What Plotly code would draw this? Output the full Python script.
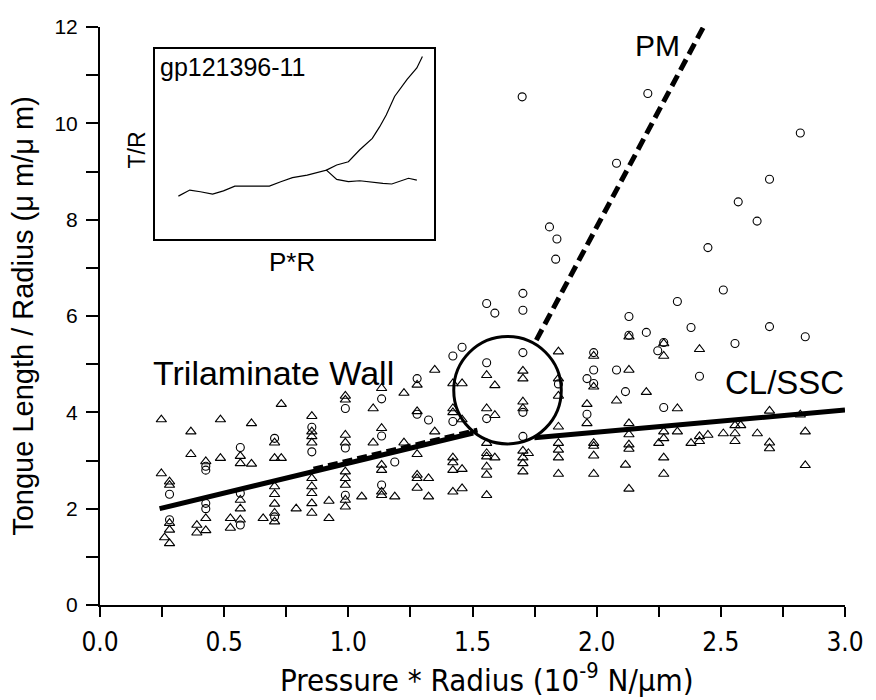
import plotly.graph_objects as go

# open circles (PM data)
circ_x = [0.28, 0.28, 0.426, 0.426, 0.426, 0.426, 0.565, 0.565, 0.565, 0.703, 0.703,
          0.853, 0.853, 0.988, 0.988, 0.988, 1.134, 1.134, 1.134, 1.187, 1.277, 1.277,
          1.323, 1.421, 1.421, 1.458, 1.557, 1.557, 1.557, 1.59, 1.703, 1.703, 1.703, 1.703, 1.703,
          1.846, 1.961, 1.961, 1.988, 1.988, 1.988, 2.08, 2.116, 2.13, 2.13, 2.2, 2.246, 2.27, 2.27, 2.325,
          2.38, 2.414, 2.51, 2.557, 2.696, 2.84,
          1.70, 2.206, 2.08, 2.82, 2.696, 2.57, 2.646, 2.448, 1.835, 1.84, 1.81]
circ_y = [2.3, 1.77, 2.88, 2.8, 2.11, 2.0, 3.27, 2.32, 1.66, 3.46, 1.83,
          3.69, 3.18, 4.08, 3.26, 2.28, 4.28, 3.51, 2.49, 2.97, 4.7, 3.96,
          3.84, 5.17, 3.81, 5.35, 6.26, 5.03, 3.87, 6.06, 6.47, 6.12, 5.24, 4.0, 3.5,
          4.59, 4.7, 3.96, 5.24, 4.88, 4.6, 4.88, 4.43, 5.99, 5.6, 5.66, 5.28, 5.45, 4.1, 6.3,
          5.76, 4.75, 6.54, 5.43, 5.78, 5.57,
          10.55, 10.62, 9.17, 9.8, 8.84, 8.37, 7.97, 7.42, 7.18, 7.6, 7.85]

# open triangles (CL/SSC data)
tri_x = [0.247, 0.247, 0.28, 0.28, 0.28, 0.28, 0.26, 0.28,
         0.366, 0.366, 0.39, 0.39, 0.426, 0.426, 0.426,
         0.485, 0.485, 0.525, 0.525, 0.565, 0.565, 0.565, 0.565, 0.565,
         0.61, 0.61, 0.657, 0.703, 0.703, 0.703, 0.703, 0.703, 0.703, 0.703, 0.73, 0.73,
         0.79, 0.853, 0.853, 0.853, 0.853, 0.853, 0.853, 0.853, 0.853, 0.853,
         0.922, 0.922, 0.988, 0.988, 0.988, 0.988, 0.988, 0.988, 0.988, 0.988, 0.988,
         1.054, 1.1, 1.1, 1.134, 1.134, 1.134, 1.134, 1.134, 1.134, 1.187, 1.224, 1.224,
         1.277, 1.277, 1.277, 1.277, 1.277, 1.277,
         1.323, 1.323, 1.348, 1.348, 1.421, 1.421, 1.421, 1.421, 1.421, 1.421, 1.421,
         1.458, 1.458, 1.458, 1.458, 1.557, 1.557, 1.557, 1.557, 1.557, 1.557, 1.557, 1.557,
         1.59, 1.59, 1.59, 1.703, 1.703, 1.703, 1.703, 1.703, 1.703, 1.703, 1.703, 1.725,
         1.846, 1.846, 1.846, 1.846, 1.846, 1.846, 1.846, 1.846, 1.961, 1.961,
         1.988, 1.988, 1.988, 1.988, 1.988, 1.988, 2.08, 2.116,
         2.13, 2.13, 2.13, 2.13, 2.13, 2.13, 2.13, 2.2,
         2.27, 2.27, 2.27, 2.27, 2.27, 2.27, 2.25, 2.325, 2.325,
         2.38, 2.414, 2.414, 2.414, 2.448, 2.51, 2.557, 2.557, 2.557, 2.58, 2.647,
         2.696, 2.696, 2.696, 2.82, 2.84, 2.84]
tri_y = [3.85, 2.73, 2.56, 2.49, 1.7, 1.56, 1.4, 1.28,
         3.6, 3.13, 1.66, 1.5, 2.98, 1.8, 1.55,
         3.85, 3.05, 1.8, 1.6, 3.09, 2.94, 2.18, 2.0, 1.77,
         3.77, 2.93, 1.8, 3.37, 3.05, 2.46, 2.3, 2.1, 1.91, 1.73, 4.17, 3.05,
         2.0, 3.92, 3.6, 3.5, 3.37, 2.63, 2.46, 2.32, 2.11, 1.91,
         2.16, 1.8, 4.34, 4.26, 3.53, 3.37, 2.77, 2.63, 2.49, 2.18, 2.04,
         2.25, 4.08, 3.37, 4.5, 3.67, 2.91, 2.8, 2.35, 2.28, 2.25, 4.4, 3.37,
         4.57, 4.02, 3.13, 2.7, 2.63, 2.43,
         2.63, 2.25, 4.88, 3.6, 4.6, 4.08, 4.0, 3.06, 2.96, 2.8, 2.35,
         4.6, 3.85, 2.82, 2.42, 4.77, 4.08, 3.36, 3.15, 3.08, 2.87, 2.7, 2.28,
         4.56, 3.94, 3.06, 4.86, 4.7, 4.22, 4.08, 3.2, 3.06, 2.94, 2.77, 3.15,
         5.26, 4.7, 4.34, 3.7, 3.36, 3.22, 3.06, 2.72, 4.17, 3.77,
         5.17, 4.53, 3.36, 3.3, 3.1, 2.72, 4.24, 2.91,
         5.57, 4.88, 3.77, 3.54, 3.33, 3.24, 2.41, 4.42,
         5.43, 5.17, 3.6, 3.46, 3.06, 2.72, 3.36, 4.08, 3.6,
         3.36, 5.31, 3.5, 3.4, 3.53, 3.56, 3.73, 3.56, 3.4, 3.73, 3.56,
         4.03, 3.37, 3.25, 3.95, 3.6, 2.9]

# fitted lines
wall_x = [0.24, 1.503]
wall_y = [2.0, 3.57]
wall_dash_x = [0.86, 1.52]
wall_dash_y = [2.82, 3.63]
pm_x = [1.757, 2.43]
pm_y = [5.5, 12.0]
clssc_x = [1.749, 3.0]
clssc_y = [3.47, 4.05]

# highlight circle around the transition
ring_cx, ring_cy = 1.641, 4.46
ring_rx, ring_ry = 0.2165, 1.115

# inset trace (relative units of the inset box)
inset_lo_x = [0.083, 0.124, 0.162, 0.206, 0.245, 0.286, 0.333, 0.41, 0.451, 0.493, 0.546, 0.582, 0.615,
              0.652, 0.694, 0.735, 0.783, 0.818, 0.85, 0.91, 0.94]
inset_lo_y = [0.226, 0.258, 0.249, 0.237, 0.254, 0.279, 0.279, 0.279, 0.302, 0.323, 0.337, 0.349, 0.363,
              0.314, 0.302, 0.307, 0.297, 0.293, 0.29, 0.32, 0.31]
inset_hi_x = [0.615, 0.652, 0.694, 0.735, 0.78, 0.806, 0.83, 0.86, 0.905, 0.94, 0.96]
inset_hi_y = [0.363, 0.39, 0.407, 0.47, 0.53, 0.59, 0.653, 0.75, 0.84, 0.9, 0.96]

FONT = "Liberation Sans, Arial, sans-serif"
NARROW = "Liberation Sans Narrow, DejaVu Sans Condensed, Arial Narrow, sans-serif"

fig = go.Figure()

fig.add_trace(go.Scatter(x=wall_x, y=wall_y, mode="lines",
                         line=dict(color="black", width=5), showlegend=False))
fig.add_trace(go.Scatter(x=wall_dash_x, y=wall_dash_y, mode="lines",
                         line=dict(color="black", width=5, dash="10px,5px"), showlegend=False))
fig.add_trace(go.Scatter(x=pm_x, y=pm_y, mode="lines",
                         line=dict(color="black", width=5, dash="12px,6px"), showlegend=False))
fig.add_trace(go.Scatter(x=clssc_x, y=clssc_y, mode="lines",
                         line=dict(color="black", width=5), showlegend=False))

fig.add_trace(go.Scatter(x=circ_x, y=circ_y, mode="markers",
                         marker=dict(symbol="circle-open", size=8, color="black", line=dict(width=1.1)),
                         showlegend=False))
fig.add_trace(go.Scatter(x=tri_x, y=tri_y, mode="markers",
                         marker=dict(symbol="triangle-up-open", size=9, color="black", line=dict(width=1.1)),
                         showlegend=False))

# inset
fig.add_trace(go.Scatter(x=inset_lo_x, y=inset_lo_y, mode="lines", xaxis="x2", yaxis="y2",
                         line=dict(color="black", width=1.2), showlegend=False))
fig.add_trace(go.Scatter(x=inset_hi_x, y=inset_hi_y, mode="lines", xaxis="x2", yaxis="y2",
                         line=dict(color="black", width=1.2), showlegend=False))

fig.add_shape(type="circle", xref="x", yref="y",
              x0=ring_cx - ring_rx, x1=ring_cx + ring_rx,
              y0=ring_cy - ring_ry, y1=ring_cy + ring_ry,
              line=dict(color="black", width=3), fillcolor="rgba(0,0,0,0)")

fig.update_layout(
    width=876, height=700,
    margin=dict(l=100, r=21, t=27, b=95),
    paper_bgcolor="white", plot_bgcolor="white",
    font=dict(family=FONT, size=20, color="black"),
    xaxis=dict(range=[0, 3], tickmode="linear", tick0=0, dtick=0.5, tickformat=".1f",
               ticks="outside", ticklen=10, tickwidth=1.5, tickcolor="black",
               minor=dict(dtick=0.25, ticks="outside", ticklen=10, tickwidth=1.5, tickcolor="black"),
               showline=True, linecolor="black", linewidth=2, showgrid=False, zeroline=False,
               tickfont=dict(family=NARROW, size=26), ticklabelstandoff=3),
    yaxis=dict(range=[0, 12], tickmode="linear", tick0=0, dtick=2,
               ticks="outside", ticklen=12, tickwidth=1.5, tickcolor="black",
               minor=dict(dtick=1, ticks="outside", ticklen=12, tickwidth=1.5, tickcolor="black"),
               showline=True, linecolor="black", linewidth=2, showgrid=False, zeroline=False,
               tickfont=dict(family=FONT, size=21), ticklabelstandoff=4,
               title=dict(text="Tongue Length / Radius (μ m/μ m)",
                          font=dict(family=FONT, size=29), standoff=12)),
    xaxis2=dict(domain=[0.0742, 0.4477], anchor="y2", range=[0, 1], showticklabels=False,
                ticks="", showgrid=False, zeroline=False, showline=True, mirror=True,
                linecolor="black", linewidth=1.5),
    yaxis2=dict(domain=[0.633, 0.962], anchor="x2", range=[0, 1], showticklabels=False,
                ticks="", showgrid=False, zeroline=False, showline=True, mirror=True,
                linecolor="black", linewidth=1.5),
)

annos = [
    dict(text="gp121396-11", x=0.01, y=0.99, xref="x2 domain", yref="y2 domain",
         xanchor="left", yanchor="top", font=dict(size=25)),
    dict(text="T/R", x=137, y=150, textangle=-90, font=dict(size=23)),
    dict(text="P*R", x=295, y=262, font=dict(size=26)),
    dict(text="PM", x=665, y=45, font=dict(size=30)),
    dict(text="Trilaminate Wall", x=276, y=373, font=dict(size=34)),
    dict(text="CL/SSC", x=794, y=382, font=dict(size=33)),
    # x-axis title, kept as an annotation so it sits tight to the bottom edge
    dict(text="Pressure * Radius (10<sup>-9</sup> N/μm)", x=492, y=678,
         font=dict(family=NARROW, size=31)),
]
for a in annos:
    if "xref" not in a:
        # pixel position -> paper fraction
        a["x"] = (a["x"] - 100) / 755
        a["y"] = (605 - a["y"]) / 578
        a["xref"] = "paper"
        a["yref"] = "paper"
        a.setdefault("xanchor", "center")
        a.setdefault("yanchor", "middle")
    a["showarrow"] = False
    fig.add_annotation(**a)

# drop the browser's default body margin so the figure sits at the page origin
fig.write_html("out.html", config={"displayModeBar": False},
               post_script="document.body.style.margin='0';")
